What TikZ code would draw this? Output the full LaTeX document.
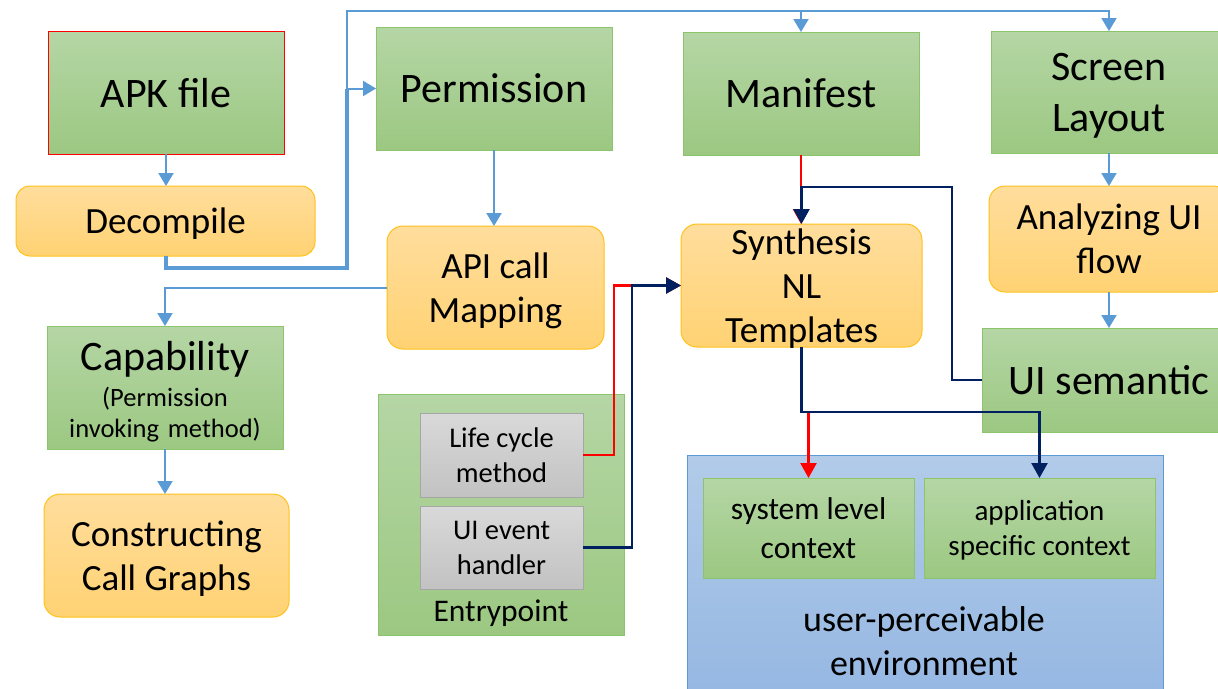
\documentclass[tikz,border=0pt]{standalone}
\usepackage{fontspec}
\setmainfont{Carlito}
\usetikzlibrary{arrows.meta}
\definecolor{grnT}{HTML}{B5D6A5}
\definecolor{grnB}{HTML}{9CC882}
\definecolor{grnD}{HTML}{8CC46C}
\definecolor{orT}{HTML}{FFDD9C}
\definecolor{orB}{HTML}{FFD273}
\definecolor{orD}{HTML}{FFC21A}
\definecolor{grT}{HTML}{D9D9D9}
\definecolor{grB}{HTML}{C2C2C2}
\definecolor{grD}{HTML}{A6A6A6}
\definecolor{bluT}{HTML}{B2CBE9}
\definecolor{bluB}{HTML}{95B7E2}
\definecolor{bluD}{HTML}{5B9BD5}
\definecolor{lnBlue}{HTML}{5B9BD5}
\definecolor{lnNavy}{HTML}{002060}
\definecolor{lnRed}{HTML}{FF0000}
\begin{document}
\begin{tikzpicture}[x=1pt,y=-1pt,
  box/.style={inner sep=0pt, outer sep=0pt, align=center, line width=1pt, text depth=0pt},
  greenbox/.style={box, draw=grnD, top color=grnT, bottom color=grnB},
  orangebox/.style={box, draw=orD, top color=orT, bottom color=orB, rounded corners=16pt},
  graybox/.style={box, draw=grD, top color=grT, bottom color=grB},
  bluebox/.style={box, draw=bluD, top color=bluT, bottom color=bluB},
  fA/.style={font=\fontsize{42}{51}\selectfont},
  fB/.style={font=\fontsize{37}{44}\selectfont},
  fC/.style={font=\fontsize{31.5}{39}\selectfont},
  fD/.style={font=\fontsize{28.5}{35}\selectfont},
  fE/.style={font=\fontsize{29}{35}\selectfont},
  fF/.style={font=\fontsize{36}{44}\selectfont},
  fG/.style={font=\fontsize{26.5}{31}\selectfont},
  bl/.style={draw=lnBlue, line width=2pt, -{Triangle[width=15pt,length=13pt]}},
  blthick/.style={draw=lnBlue, line width=4pt},
  rd/.style={draw=lnRed, line width=2.5pt, -{Triangle[width=16pt,length=15pt]}},
  nv/.style={draw=lnNavy, line width=2.5pt, -{Triangle[width=16pt,length=15pt]}}
]
\useasboundingbox (0,0) rectangle (1218,688);

% boxes
\node[greenbox, draw=lnRed, fA, minimum width=236pt, minimum height=123pt] (apk) at (166,92.5) {APK file};
\node[orangebox, rounded corners=14pt, fB, minimum width=299pt, minimum height=70pt] (decomp) at (165.5,221) {Decompile};
\node[greenbox, fA, minimum width=236pt, minimum height=123pt] (perm) at (494,88.5) {Permission};
\node[greenbox, fA, minimum width=236pt, minimum height=123pt] (manif) at (801,93.5) {Manifest};
\node[greenbox, fA, minimum width=236pt, minimum height=122pt] (screen) at (1109,92) {Screen\\Layout};
\node[orangebox, fB, minimum width=240pt, minimum height=106pt] (analyz) at (1109,239) {Analyzing UI\\flow};
\node[greenbox, fA, minimum width=254pt, minimum height=104pt] (uisem) at (1109,380) {UI semantic};
\node[orangebox, fB, minimum width=217pt, minimum height=123pt] (api) at (495.5,287.5) {API call\\Mapping};
\node[greenbox, minimum width=236pt, minimum height=123pt] (cap) at (165,387.5) {};
\node[fG, inner sep=0pt, align=center, text width=234pt] (captxt) at (165,391.5)
  {\fontsize{42}{51}\selectfont Capability\par\vspace{5pt}\fontsize{26.5}{31}\selectfont (Permission\par invoking method)\par};
\node[orangebox, fB, minimum width=245pt, minimum height=123pt] (cons) at (166.5,555.5) {Constructing\\Call Graphs};
\node[orangebox, fB, minimum width=241pt, minimum height=123pt] (synth) at (801.5,285.5) {Synthesis\\NL\\Templates};

\node[greenbox, minimum width=246pt, minimum height=241pt] (entry) at (501,514.5) {};
\node[graybox, fD, minimum width=163pt, minimum height=84pt] (life) at (501.5,455) {Life cycle\\method};
\node[graybox, fD, minimum width=163pt, minimum height=83pt] (uiev) at (501.5,547.5) {UI event\\handler};
\node[fC, inner sep=0pt, anchor=base] (entrylbl) at (501,621) {Entrypoint};

\node[bluebox, minimum width=476pt, minimum height=245pt] (env) at (925,577.5) {};
\node[greenbox, fC, minimum width=211pt, minimum height=100pt] (sys) at (808.5,528) {system level\\context};
\node[greenbox, fE, minimum width=231pt, minimum height=100pt] (app) at (1039.5,528) {application\\specific context};
\node[fF, inner sep=0pt, align=center, anchor=south] (envlbl) at (924,676) {user-perceivable\\environment};

% junction coordinates
\coordinate (dj1) at (347,268);
\coordinate (dj2) at (347,88.5);
\coordinate (topj) at (347,11);
\coordinate (mj) at (952,187);
\coordinate (rj) at (614,285.5);
\coordinate (nj) at (632,285.5);
\coordinate (sj1) at (808.5,412);
\coordinate (sj2) at (1039.5,412);

% blue connectors
\draw[bl] (apk.south) -- (apk.south |- decomp.north);
\draw[blthick] (decomp.south) |- (dj1) -- (dj2);
\draw[bl] (dj2) -- (perm.west);
\draw[bl] (dj2) -- (topj) -| (screen.north);
\draw[bl] (manif.north |- topj) -- (manif.north);
\draw[bl] (perm.south) -- (perm.south |- api.north);
\draw[bl] (api.west) -| (cap.north);
\draw[bl] (cap.south) -- (cap.south |- cons.north);
\draw[bl] (screen.south) -- (analyz.north);
\draw[bl] (analyz.south) -- (uisem.north);

% red connectors
\draw[rd] (manif.south) -- (manif.south |- synth.north);
\draw[rd] (life.east) -| (rj) -- (synth.west);
\draw[rd] (synth.south) |- (sj1) -- (sys.north);

% navy connectors
\draw[nv] (uisem.west) -| (mj) -| (synth.north);
\draw[nv] (uiev.east) -| (nj) -- (synth.west);
\draw[nv] (synth.south) |- (sj2) -- (app.north);
\end{tikzpicture}
\end{document}
